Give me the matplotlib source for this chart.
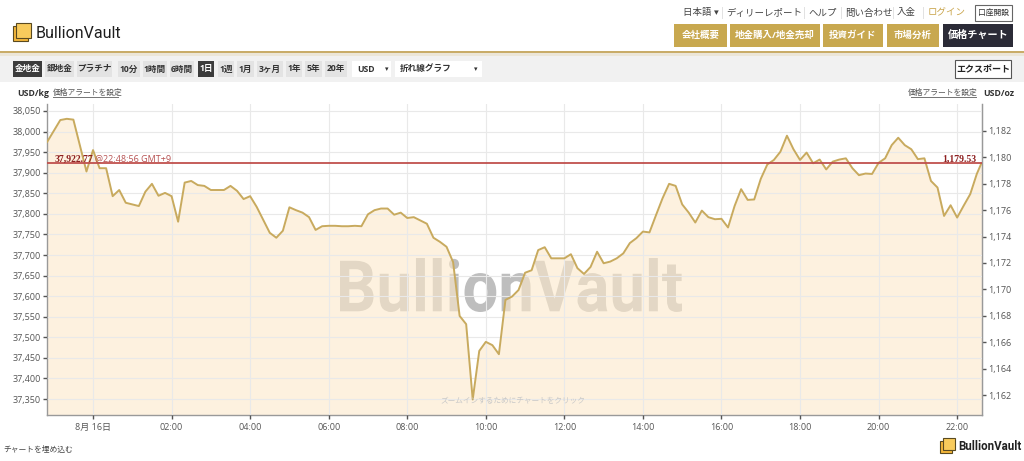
import matplotlib
matplotlib.use("Agg")
import matplotlib.pyplot as plt
from matplotlib.patches import Rectangle, PathPatch
from matplotlib.textpath import TextPath
from matplotlib.font_manager import FontProperties
from matplotlib.transforms import Affine2D, IdentityTransform
from matplotlib.ticker import FuncFormatter

plt.rcParams['font.family'] = ['Open Sans', 'Noto Sans CJK JP', 'DejaVu Sans']

# gold price, USD/kg, minutes from 00:00 on 16 Aug (negative = 15 Aug)
minutes = [-70, -50, -40, -30, -10, 0, 10, 20, 30, 40, 50, 60, 70, 80, 90, 100,
           110, 120, 130, 140, 150, 160, 170, 180, 190, 200, 210, 220, 230, 240,
           250, 270, 280, 290, 300, 310, 320, 330, 340, 350, 360, 370, 380, 390,
           400, 410, 420, 430, 440, 450, 460, 470, 480, 490, 500, 510, 520, 530,
           540, 550, 560, 570, 580, 590, 600, 610, 620, 630, 640, 650, 660, 670,
           680, 690, 700, 710, 720, 730, 740, 750, 760, 770, 780, 790, 800, 810,
           820, 830, 840, 850, 860, 870, 880, 890, 900, 910, 920, 930, 940, 950,
           960, 970, 980, 990, 1000, 1010, 1020, 1030, 1040, 1050, 1060, 1070,
           1080, 1090, 1100, 1110, 1120, 1130, 1140, 1150, 1160, 1170, 1180, 1190,
           1200, 1210, 1220, 1230, 1240, 1250, 1260, 1270, 1280, 1290, 1300, 1310,
           1320, 1330, 1340, 1350, 1357]
price_kg = [37975, 38028, 38031, 38029, 37903, 37955, 37911, 37911, 37843, 37858,
            37827, 37823, 37819, 37854, 37873, 37844, 37851, 37843, 37781, 37876,
            37880, 37870, 37868, 37858, 37858, 37858, 37868, 37856, 37836, 37843,
            37817, 37754, 37742, 37759, 37816, 37809, 37803, 37792, 37761, 37770,
            37771, 37771, 37770, 37770, 37771, 37770, 37799, 37809, 37813, 37813,
            37798, 37803, 37790, 37792, 37784, 37776, 37742, 37732, 37720, 37683,
            37552, 37532, 37349, 37467, 37489, 37481, 37459, 37591, 37599, 37615,
            37657, 37663, 37712, 37719, 37692, 37692, 37692, 37702, 37668, 37654,
            37671, 37708, 37680, 37684, 37692, 37704, 37729, 37741, 37757, 37755,
            37797, 37838, 37873, 37868, 37823, 37803, 37779, 37808, 37792, 37787,
            37788, 37767, 37819, 37860, 37834, 37835, 37885, 37920, 37931, 37951,
            37990, 37957, 37931, 37949, 37923, 37932, 37908, 37927, 37932, 37935,
            37911, 37894, 37898, 37897, 37924, 37935, 37967, 37985, 37967, 37957,
            37933, 37935, 37880, 37864, 37795, 37821, 37791, 37820, 37848, 37897,
            37922.77]

last_kg = 37922.77
last_oz = 1179.53
KG_PER_OZ = 32.1507466

xtick_min = [0, 120, 240, 360, 480, 600, 720, 840, 960, 1080, 1200, 1320]
xtick_labels = ['8月 16日', '02:00', '04:00', '06:00', '08:00', '10:00',
                '12:00', '14:00', '16:00', '18:00', '20:00', '22:00']
ytick_kg = list(range(37350, 38051, 50))
ytick_oz = list(range(1162, 1183, 2))

W, H = 1024, 461
fig = plt.figure(figsize=(W / 100, H / 100), dpi=100)


def fx(x):
    return x / W


def fy(y):
    return 1 - y / H


def box(x0, y0, x1, y1, fc, ec=None, lw=0, z=0):
    fig.patches.append(Rectangle((fx(x0), fy(y1)), (x1 - x0) / W, (y1 - y0) / H,
                                 transform=fig.transFigure, facecolor=fc,
                                 edgecolor=ec if ec else fc, linewidth=lw, zorder=z))


def txt(x, y, s, **kw):
    kw.setdefault('va', 'center')
    fig.text(fx(x), fy(y), s, **kw)


def logo(x0, y0, s):
    box(x0, y0 + 3, x0 + s - 3, y0 + s, '#F4B63A', '#5a4a20', 0.8)
    box(x0 + 3, y0, x0 + s, y0 + s - 3, '#F8CB5C', '#5a4a20', 0.8)


# header
logo(13, 23, 18)
txt(36, 33, 'BullionVault', fontsize=11.5, color='#1e1e1e', family='Roboto')

nav = [('日本語 ▾', 683), ('ディリーレポート', 726), ('ヘルプ', 808), ('問い合わせ', 845),
       ('入金', 897)]
for s, x in nav:
    txt(x, 13, s, fontsize=6.8, color='#444')
for x in [722, 804, 841, 893, 923]:
    box(x, 7, x + 0.8, 19, '#E2E2E2')
txt(928, 13, 'ログイン', fontsize=6.8, color='#C9A44A')
box(975, 5, 1012, 21, 'white', '#666', 0.8)
txt(993.5, 13, '口座開設', fontsize=5.6, color='#333', ha='center')

menu = [('会社概要', 674, 727), ('地金購入/地金売却', 730, 820), ('投資ガイド', 823, 883),
        ('市場分析', 887, 939)]
for s, a, b in menu:
    box(a, 24, b, 47, '#C8A84F')
    txt((a + b) / 2, 35.5, s, fontsize=6.8, color='white', weight='bold', ha='center')
box(943, 24, 1013, 47, '#2B2B37')
txt(978, 35.5, '価格チャート', fontsize=7.3, color='white', weight='bold', ha='center')

box(0, 51, W, 53, '#C9AC68')
box(0, 53, W, 56, '#ECE6D8')
box(0, 56, W, 82, '#F1F1F1')

tools = [('金地金', 13, 42, True), ('銀地金', 45, 74, False), ('プラチナ', 77, 112, False),
         ('10分', 118, 140, False), ('1時間', 143, 167, False), ('6時間', 170, 194, False),
         ('1日', 198, 214, True), ('1週', 218, 234, False), ('1月', 237, 254, False),
         ('3ヶ月', 257, 283, False), ('1年', 286, 302, False), ('5年', 305, 322, False),
         ('20年', 325, 347, False)]
for s, a, b, sel in tools:
    box(a, 61, b, 77, '#3C3C3C' if sel else '#E3E3E3')
    txt((a + b) / 2, 69, s, fontsize=6.2, weight='bold',
        color='white' if sel else '#333', ha='center')
box(352, 61, 391, 77, 'white')
txt(357, 69, 'USD', fontsize=6.2, weight='bold', color='#333')
txt(385, 69, '▾', fontsize=5, color='#333', family='DejaVu Sans')
box(395, 61, 482, 77, 'white')
txt(400, 69, '折れ線グラフ', fontsize=6.2, weight='bold', color='#333')
txt(474, 69, '▾', fontsize=5, color='#333', family='DejaVu Sans')
box(955, 60, 1011, 78, 'white', '#555', 0.8)
txt(983, 69, 'エクスポート', fontsize=6.5, weight='bold', color='#222', ha='center')

txt(17, 93, 'USD/kg', fontsize=6.3, weight='bold', color='#333')
txt(53, 93, '価格アラートを設定', fontsize=5.6, color='#555')
box(53, 97.5, 119, 98.2, '#777')
txt(978, 93, '価格アラートを設定', fontsize=5.6, color='#555', ha='right')
box(911, 97.5, 977, 98.2, '#777')
txt(983, 93, 'USD/oz', fontsize=6.3, weight='bold', color='#333')

# footer
txt(3, 450, 'チャートを埋め込む', fontsize=5.6, color='#444')
box(3, 454.5, 68, 455.2, '#555')
logo(940, 438, 15)
txt(958, 446, 'BullionVault', fontsize=8.3, weight='bold', color='#222', family='Roboto')

# chart
ax = fig.add_axes([fx(47), 46.3 / H, (981.7 - 47) / W, (414.7 - 104) / H])
ymin, ymax = 37312, 38067
ax.set_xlim(-70.3, 1357.5)
ax.set_ylim(ymin, ymax)

# watermark below the translucent fill
tp = TextPath((0, 0), 'BullionVault', size=1,
              prop=FontProperties(family='Roboto', weight='bold'))
ext = tp.get_extents()
sx = (682 - 340) / ext.width
sy = (312 - 258) / ext.height
tr = Affine2D().translate(-ext.x0, -ext.y0).scale(sx, sy).translate(340, H - 312)
ax.add_patch(PathPatch(tp, transform=tr + IdentityTransform(), facecolor='#BEBEBE',
                       edgecolor='none', zorder=0.5))

ax.fill_between(minutes, price_kg, ymin, color='#FDE9CA', alpha=0.6, lw=0, zorder=1)
ax.plot(minutes, price_kg, color='#C8AA5E', lw=1.4, zorder=3)
ax.axhline(last_kg, color='#C0504D', lw=1.3, zorder=4)

ax.set_axisbelow(False)
ax.grid(True, color='#E9E9E9', lw=0.8, zorder=2)
for gl in ax.get_xgridlines() + ax.get_ygridlines():
    gl.set_zorder(2)

ax.set_xticks(xtick_min)
ax.set_xticklabels(xtick_labels)
ax.set_yticks(ytick_kg)
ax.yaxis.set_major_formatter(FuncFormatter(lambda v, p: f'{int(v):,}'))
ax.tick_params(axis='both', direction='out', length=3, width=1, color='#555',
               labelsize=6.5, labelcolor='#555')
ax.tick_params(axis='x', pad=3)
ax.tick_params(axis='y', pad=1.5)
ax.spines['top'].set_visible(False)
for sp in ['left', 'bottom', 'right']:
    ax.spines[sp].set_color('#999')
    ax.spines[sp].set_linewidth(1)

sec = ax.secondary_yaxis('right', functions=(lambda v: v / KG_PER_OZ,
                                             lambda v: v * KG_PER_OZ))
sec.set_yticks(ytick_oz)
sec.yaxis.set_major_formatter(FuncFormatter(lambda v, p: f'{int(round(v)):,}'))
sec.tick_params(direction='out', length=3, width=1, color='#555', labelsize=6.5,
                labelcolor='#555', pad=1.5)
sec.spines['right'].set_color('#999')

txt(55, 159, f'{last_kg:,.2f}', fontsize=7, weight='bold', color='#8E2020',
    family='Liberation Serif')
txt(95, 159, '@22:48:56 GMT+9', fontsize=6.5, color='#B65050')
txt(976, 159, f'{last_oz:,.2f}', fontsize=7, weight='bold', color='#8E2020',
    ha='right', family='Liberation Serif')

txt(513, 402, 'ズームインするためにチャートをクリック', fontsize=5.5, color='#C8C8C8',
    ha='center')

fig.savefig('out.png', dpi=100)
